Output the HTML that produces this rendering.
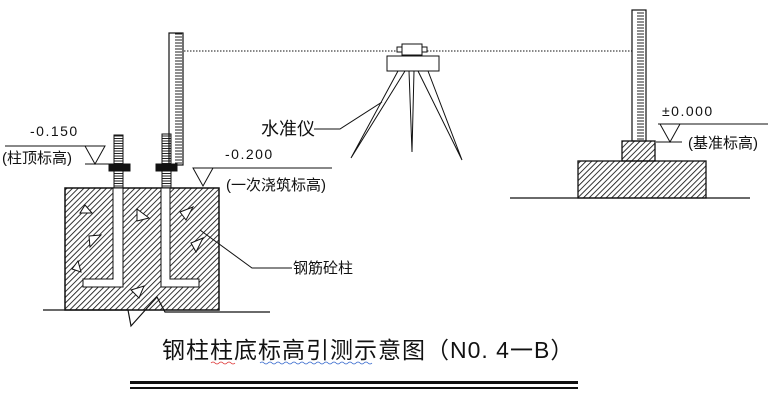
<!DOCTYPE html>
<html><head><meta charset="utf-8"><style>
html,body{margin:0;padding:0;background:#fff;}
svg{display:block;}
text{font-family:"Liberation Sans","Noto Sans CJK SC",sans-serif;fill:#111;}
</style></head><body>
<svg width="780" height="411" viewBox="0 0 780 411" xmlns="http://www.w3.org/2000/svg">
<defs>
<pattern id="h" patternUnits="userSpaceOnUse" width="4" height="4" patternTransform="rotate(45)">
<line x1="0" y1="0" x2="0" y2="4" stroke="#111" stroke-width="1.7"/>
</pattern>
<pattern id="tk" patternUnits="userSpaceOnUse" width="14" height="3">
<line x1="7" y1="1" x2="14" y2="1" stroke="#222" stroke-width="1"/>
</pattern>
<pattern id="bt" patternUnits="userSpaceOnUse" width="10" height="2.5">
<line x1="0" y1="1" x2="10" y2="1" stroke="#222" stroke-width="1"/>
</pattern>
</defs>
<g stroke="#111" fill="none" stroke-width="1">
<rect x="65" y="188" width="154" height="122" fill="url(#h)" stroke="#111" stroke-width="1.5"/>
<path d="M113,188 V279 H83 V287 H123 V188 Z" fill="#fff"/>
<path d="M161,188 V287 H199 V279 H170 V188 Z" fill="#fff"/>
<g fill="#fff">
<polygon points="85,205 92,213 80,213"/>
<polygon points="137,209 149,218 137,221"/>
<polygon points="180,212 193,207 186,220"/>
<polygon points="89,236 101,235 90,247"/>
<polygon points="196,252 203,238 191,243"/>
<polygon points="78,261 81,272 72,269"/>
<polygon points="131,290 144,286 139,298"/>
</g>
<path d="M43,310 H128 L131,326 L157,297 L165,312 H270" stroke-width="1.2"/>
<rect x="114" y="135" width="9" height="53" fill="url(#bt)"/>
<rect x="162" y="134" width="9" height="54" fill="url(#bt)"/>
<rect x="109" y="164" width="21" height="7" fill="#111"/>
<rect x="156" y="164" width="21" height="7" fill="#111"/>
<rect x="169" y="33" width="14" height="132" fill="url(#tk)" stroke-width="1.2"/>
<line x1="184" y1="51" x2="632" y2="51" stroke-dasharray="1.5,1.5" stroke-width="1"/>
<rect x="632" y="10" width="14" height="131" fill="url(#tk)" stroke-width="1.2"/>
<rect x="622" y="141" width="33" height="20" fill="url(#h)" stroke-width="1.3"/>
<rect x="578" y="161" width="128" height="37" fill="url(#h)" stroke-width="1.3"/>
<line x1="510" y1="198" x2="750" y2="198" stroke-width="1.2"/>
<rect x="402" y="44" width="20" height="11" fill="#fff"/>
<rect x="397" y="47" width="5" height="5" fill="#fff"/>
<rect x="422" y="47" width="5" height="5" fill="#fff"/>
<rect x="387" y="56" width="52" height="15" fill="#fff"/>
<path d="M398,71 L351,158 L405,71"/>
<path d="M409,71 L412,152 L414,71"/>
<path d="M418,71 L462,160 L428,71"/>
<path d="M314,129 H340 L382,102"/>
<line x1="5" y1="146" x2="105" y2="146"/>
<polygon points="85,146 105,146 95,164" fill="#fff"/>
<line x1="85" y1="164" x2="130" y2="164"/>
<line x1="195" y1="168" x2="332" y2="168"/>
<polygon points="193,168 213,168 203,186" fill="#fff"/>
<line x1="658" y1="124" x2="768" y2="124"/>
<polygon points="660,124 680,124 670,142" fill="#fff"/>
<line x1="656" y1="142" x2="682" y2="142"/>
<path d="M200,230 L252,268 H292"/>
</g>
<text x="30" y="136" font-size="14" letter-spacing="1.5">-0.150</text>
<text x="2" y="163" font-size="15">(柱顶标高)</text>
<text x="225" y="159" font-size="14" letter-spacing="1.5">-0.200</text>
<text x="226" y="190" font-size="15">(一次浇筑标高)</text>
<text x="261" y="135" font-size="18">水准仪</text>
<text x="293" y="273" font-size="15">钢筋砼柱</text>
<text x="662" y="116" font-size="14" letter-spacing="1.5">±0.000</text>
<text x="688" y="148" font-size="15">(基准标高)</text>
<text x="162" y="358" font-size="23" letter-spacing="1">钢柱柱底标高引测示意图（N0. 4一B）</text>
<path d="M211,363 q2,-2 4,0 t4,0 t4,0 t4,0 t4,0 t4,0" stroke="#d33" fill="none" stroke-width="0.8"/>
<path d="M260,363 q2,-2 4,0 t4,0 t4,0 t4,0 t4,0 t4,0 t4,0 t4,0 t4,0 t4,0 t4,0 t4,0 t4,0 t4,0 t4,0 t4,0 t4,0 t4,0 t4,0 t4,0 t4,0 t4,0 t4,0 t4,0 t4,0 t4,0 t4,0 t4,0" stroke="#36c" fill="none" stroke-width="0.8"/>
<rect x="130" y="381" width="448" height="3" fill="#111"/>
<rect x="130" y="387" width="448" height="2" fill="#111"/>
</svg>
</body></html>
